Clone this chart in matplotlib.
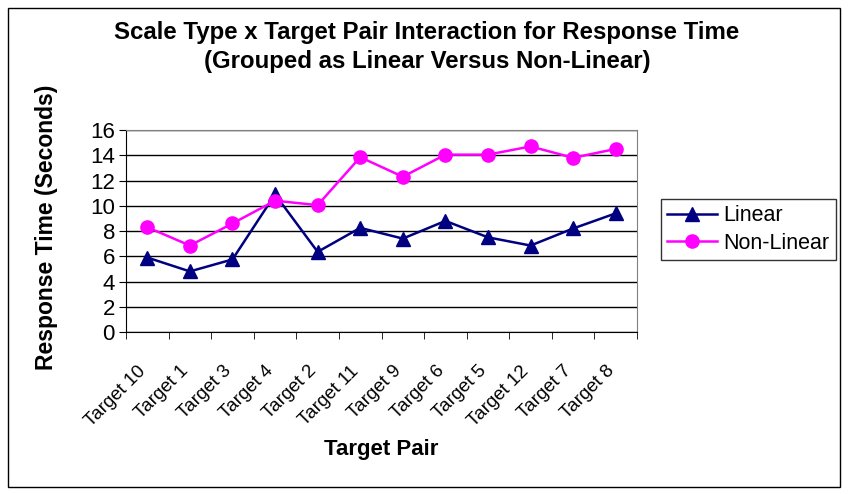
import numpy as np
import matplotlib.pyplot as plt
import matplotlib.transforms as mtransforms
from matplotlib.patches import Rectangle

plt.rcParams['font.family'] = ['Liberation Sans', 'DejaVu Sans']

targets = ["Target 10", "Target 1", "Target 3", "Target 4", "Target 2", "Target 11",
           "Target 9", "Target 6", "Target 5", "Target 12", "Target 7", "Target 8"]
linear = [5.9, 4.8, 5.75, 10.9, 6.35, 8.25, 7.4, 8.8, 7.5, 6.85, 8.2, 9.4]
non_linear = [8.3, 6.85, 8.6, 10.4, 10.05, 13.85, 12.3, 14.05, 14.05, 14.7, 13.8, 14.5]

fig = plt.figure(figsize=(8.48, 4.94), dpi=100)
ax = fig.add_axes([0.1486, 0.3279, 0.6026, 0.4089])

x = np.arange(len(targets))
ax.plot(x, linear, color="#000080", marker="^", markersize=9.5, linewidth=1.8, label="Linear")
ax.plot(x, non_linear, color="#FF00FF", marker="o", markersize=9.5, linewidth=1.8, label="Non-Linear")

ax.set_xlim(-0.5, len(targets) - 0.5)
ax.set_ylim(0, 16)
ax.set_yticks(range(0, 17, 2))
ax.yaxis.grid(True, color="black", linewidth=1)
ax.set_axisbelow(True)

ax.set_xticks(x)
ax.set_xticklabels(targets, rotation=45, ha="right", rotation_mode="anchor", fontsize=13.5)
ax.tick_params(axis="x", which="major", length=0, pad=22)
shift = mtransforms.ScaledTranslation(-10 / 100, 0, fig.dpi_scale_trans)
for lbl in ax.get_xticklabels():
    lbl.set_transform(lbl.get_transform() + shift)
ax.set_xticks(np.arange(-0.5, len(targets)), minor=True)
ax.tick_params(axis="x", which="minor", length=5, direction="out", color="black")
ax.tick_params(axis="y", labelsize=16, length=5, direction="out", pad=3)

for side in ["top", "right"]:
    ax.spines[side].set_color("#808080")
ax.spines["left"].set_color("black")
ax.spines["bottom"].set_color("black")

ax.set_xlabel("Target Pair", fontsize=16, fontweight="bold")
ax.xaxis.set_label_coords(0.5, -0.584)
ax.xaxis.label.set_va("center")
ax.set_ylabel("Response Time (Seconds)", fontsize=16.5, fontweight="bold")
ax.yaxis.set_label_coords(-0.155, 0.52)
ax.yaxis.label.set_va("center")

fig.text(0.5035, 0.935, "Scale Type x Target Pair Interaction for Response Time",
         ha="center", va="center", fontsize=17.3, fontweight="bold")
fig.text(0.5035, 0.8745, "(Grouped as Linear Versus Non-Linear)",
         ha="center", va="center", fontsize=17.3, fontweight="bold")

leg = fig.legend(loc="center left", bbox_to_anchor=(0.779, 0.535), fontsize=15.5,
                 frameon=True, fancybox=False, edgecolor="black", borderpad=0.3,
                 handlelength=2.3, handletextpad=0.3, labelspacing=0.3, borderaxespad=0)
leg.get_frame().set_linewidth(1)

fig.patches.append(Rectangle((0.009, 0.014), 0.982, 0.970, transform=fig.transFigure,
                             fill=False, edgecolor="black", linewidth=1))

fig.savefig("out.png", dpi=100)
